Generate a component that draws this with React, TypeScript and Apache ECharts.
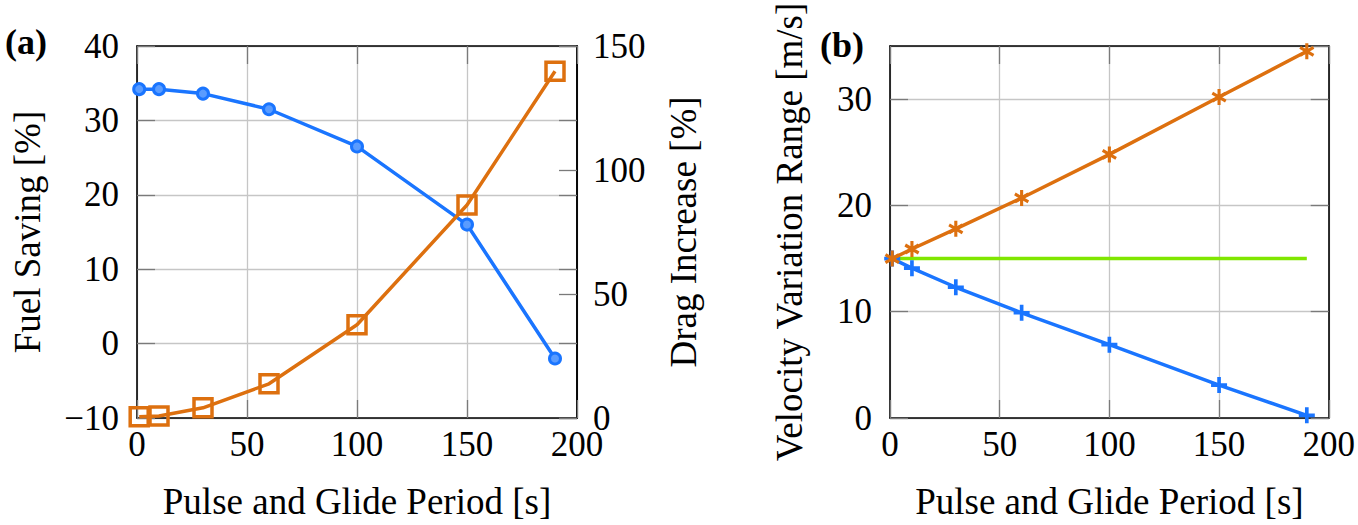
import React, { useEffect, useRef } from "react";
import * as echarts from "echarts";

const periods = [1, 10, 30, 60, 100, 150, 190];
const fuelSaving = [34.2, 34.2, 33.6, 31.5, 26.5, 16.0, -2.0];
const dragIncrease = [0.5, 0.8, 4.1, 13.8, 37.6, 85.9, 139.8];
const velocityMax = [15.0, 15.9, 17.8, 20.7, 24.8, 30.2, 34.5];
const velocityMin = [15.0, 14.1, 12.3, 9.9, 6.9, 3.1, 0.25];
const refPeriods = [1, 190];
const refVelocity = [15, 15];

const xTicks = { min: 0, max: 200, interval: 50 };
const fuelTicks = { min: -10, max: 40, interval: 10 };
const dragTicks = { min: 0, max: 150, interval: 50 };
const velTicks = { min: 0, max: 35, interval: 10 };

const BLUE = "#1a75ff";
const ORANGE = "#dd700f";
const GREEN = "#80e600";
const FONT = "Liberation Serif";

function pts(xs: number[], ys: number[]) {
  return xs.map((x, i) => [x, ys[i]]);
}

function rectPath(w: number, L: number, deg: number) {
  const t = (deg * Math.PI) / 180;
  const c = Math.cos(t);
  const s = Math.sin(t);
  const p = [
    [-w, -L],
    [w, -L],
    [w, L],
    [-w, L],
  ].map(([x, y]) => [x * c - y * s, x * s + y * c]);
  return "M" + p.map(([x, y]) => x.toFixed(3) + " " + y.toFixed(3)).join(" L") + " Z";
}

const plusSymbol = "path://" + rectPath(1.6, 7, 0) + " " + rectPath(1.6, 7, 90);
const starSymbol =
  "path://" + rectPath(1.4, 7, 0) + " " + rectPath(1.4, 7, 60) + " " + rectPath(1.4, 7, -60);

const tick = () => ({ show: true, inside: true, length: 18, lineStyle: { color: "#7a7a7a", width: 1.3 } });
const aLine = () => ({ show: true, onZero: false, lineStyle: { color: "#000", width: 1.6 } });
const split = () => ({ show: true, lineStyle: { color: "#c6c6c6", width: 1.3 } });
const label = (margin: number) => ({ show: true, fontFamily: FONT, fontSize: 35, color: "#000", margin });
const nameSt = () => ({ fontFamily: FONT, fontSize: 37, color: "#000" });

function xMain(gridIndex: number) {
  return {
    type: "value",
    gridIndex,
    position: "bottom",
    ...xTicks,
    axisLine: aLine(),
    axisTick: tick(),
    splitLine: split(),
    axisLabel: label(9),
    name: "Pulse and Glide Period [s]",
    nameLocation: "middle",
    nameGap: 65,
    nameTextStyle: nameSt(),
  };
}
function xMirror(gridIndex: number) {
  return {
    type: "value",
    gridIndex,
    position: "top",
    ...xTicks,
    axisLine: aLine(),
    axisTick: tick(),
    splitLine: { show: false },
    axisLabel: { show: false },
  };
}
function yMirror(gridIndex: number, t: any) {
  return {
    type: "value",
    gridIndex,
    position: "right",
    ...t,
    axisLine: aLine(),
    axisTick: tick(),
    splitLine: { show: false },
    axisLabel: { show: false },
  };
}

export default function App() {
  const ref = useRef<HTMLDivElement>(null);
  useEffect(() => {
    if (!ref.current) return;
    const chart = echarts.init(ref.current, undefined, { renderer: "svg" });
    chart.setOption({
      animation: false,
      backgroundColor: "#fff",
      grid: [
        { left: 137, top: 46, width: 440, height: 373 },
        { left: 890, top: 46, width: 440, height: 373 },
      ],
      xAxis: [xMain(0), xMirror(0), xMain(1), xMirror(1)],
      yAxis: [
        {
          type: "value",
          gridIndex: 0,
          position: "left",
          ...fuelTicks,
          axisLine: aLine(),
          axisTick: tick(),
          splitLine: split(),
          axisLabel: {
            ...label(18),
            formatter: (v: number) => (v < 0 ? "\u2212" + Math.abs(v) : String(v)),
          },
          name: "Fuel Saving [%]",
          nameLocation: "middle",
          nameGap: 91,
          nameTextStyle: nameSt(),
        },
        yMirror(0, fuelTicks),
        {
          type: "value",
          gridIndex: 0,
          position: "right",
          ...dragTicks,
          axisLine: aLine(),
          axisTick: tick(),
          splitLine: { show: false },
          axisLabel: label(16),
          name: "Drag Increase [%]",
          nameLocation: "middle",
          nameGap: 88,
          nameTextStyle: nameSt(),
        },
        {
          type: "value",
          gridIndex: 1,
          position: "left",
          ...velTicks,
          axisLine: aLine(),
          axisTick: tick(),
          splitLine: split(),
          axisLabel: { ...label(18), showMaxLabel: false },
          name: "Velocity Variation Range [m/s]",
          nameLocation: "middle",
          nameGap: 82,
          nameTextStyle: nameSt(),
        },
        yMirror(1, velTicks),
      ],
      graphic: [
        {
          type: "text",
          left: 5,
          top: 24,
          style: { text: "(a)", font: "bold 36px 'Liberation Serif'", fill: "#000" },
        },
        {
          type: "text",
          left: 820,
          top: 27,
          style: { text: "(b)", font: "bold 36px 'Liberation Serif'", fill: "#000" },
        },
      ],
      series: [
        {
          type: "line",
          xAxisIndex: 0,
          yAxisIndex: 0,
          data: pts(periods, fuelSaving),
          symbol: "circle",
          symbolSize: 11,
          lineStyle: { color: BLUE, width: 3.5 },
          itemStyle: { color: "#5a9cff", borderColor: BLUE, borderWidth: 3 },
          z: 3,
        },
        {
          type: "line",
          xAxisIndex: 0,
          yAxisIndex: 2,
          data: pts(periods, dragIncrease),
          symbol: "rect",
          symbolSize: 18,
          lineStyle: { color: ORANGE, width: 3.5 },
          itemStyle: { color: "rgba(255,255,255,0)", borderColor: ORANGE, borderWidth: 3.5 },
          z: 4,
        },
        {
          type: "line",
          xAxisIndex: 2,
          yAxisIndex: 3,
          data: pts(refPeriods, refVelocity),
          symbol: "none",
          lineStyle: { color: GREEN, width: 3.5 },
          z: 2,
        },
        {
          type: "line",
          xAxisIndex: 2,
          yAxisIndex: 3,
          data: pts(periods, velocityMin),
          symbol: plusSymbol,
          symbolSize: 16,
          lineStyle: { color: BLUE, width: 3.5 },
          itemStyle: { color: BLUE, borderWidth: 0 },
          z: 3,
        },
        {
          type: "line",
          xAxisIndex: 2,
          yAxisIndex: 3,
          data: pts(periods, velocityMax),
          symbol: starSymbol,
          symbolSize: [15, 16],
          lineStyle: { color: ORANGE, width: 3.5 },
          itemStyle: { color: ORANGE, borderWidth: 0 },
          z: 4,
        },
      ],
    });
    return () => chart.dispose();
  }, []);
  return (
    <div
      ref={ref}
      style={{ position: "fixed", left: 0, top: 0, width: 1358, height: 525, background: "#fff" }}
    />
  );
}
